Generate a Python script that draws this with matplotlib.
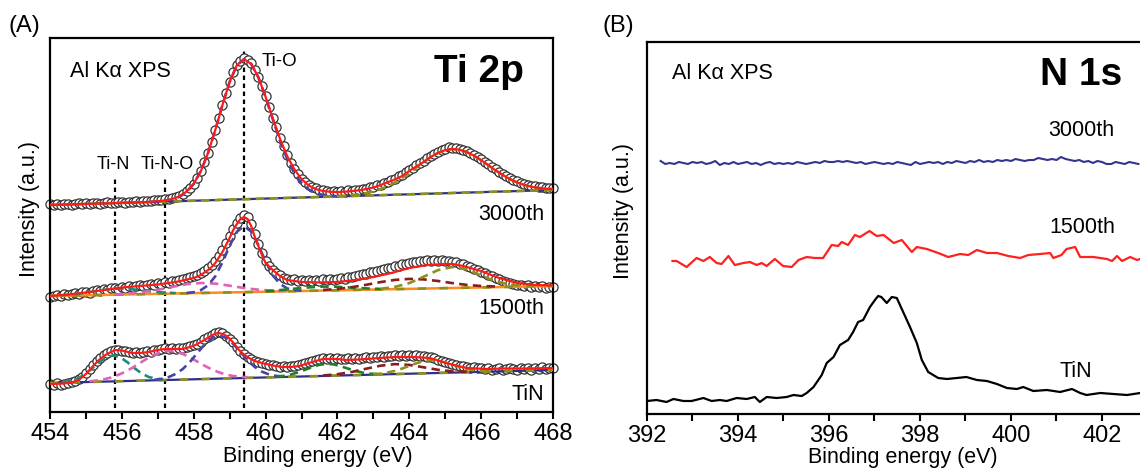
import numpy as np
import matplotlib.pyplot as plt

plt.rcParams['font.family'] = ['Liberation Sans', 'DejaVu Sans']


def grid(start, stop, step):
    return np.round(np.arange(start, stop + step / 2, step), 2)


# ---------------- panel A : Ti 2p (intensities in a.u., curves stacked) ----------------
ti_x = grid(454.0, 468.0, 0.1)

ti_3000 = [208, 207, 208, 207, 208, 208, 207, 208, 209, 208,
           209, 208, 209, 209, 208, 209, 210, 209, 209, 210,
           210, 209, 210, 210, 211, 210, 211, 211, 211, 212,
           212, 212, 213, 213, 214, 215, 216, 218, 221, 224,
           228, 234, 241, 250, 259, 270, 282, 294, 307, 319,
           330, 340, 347, 351, 354, 352, 349, 342, 335, 326,
           316, 305, 294, 285, 274, 266, 257, 249, 243, 238,
           233, 230, 227, 225, 224, 222, 222, 221, 220, 221,
           220, 221, 220, 222, 221, 222, 222, 223, 223, 225,
           225, 227, 227, 229, 230, 232, 233, 236, 237, 240,
           242, 244, 247, 249, 251, 254, 256, 258, 260, 262,
           263, 265, 264, 264, 263, 262, 261, 259, 257, 255,
           253, 250, 248, 245, 243, 240, 238, 236, 234, 232,
           231, 229, 228, 227, 226, 226, 225, 225, 224, 224,
           224]

ti_1500 = [115, 116, 117, 116, 118, 117, 118, 119, 118, 120,
           120, 119, 121, 122, 121, 123, 122, 124, 124, 123,
           125, 124, 126, 125, 126, 127, 126, 127, 128, 127,
           129, 128, 130, 129, 131, 131, 132, 133, 134, 135,
           136, 137, 139, 141, 144, 147, 151, 156, 162, 169,
           176, 183, 189, 194, 197, 195, 188, 178, 168, 159,
           151, 146, 142, 139, 137, 134, 133, 132, 133, 131,
           132, 131, 132, 131, 132, 131, 133, 132, 133, 132,
           133, 134, 133, 135, 135, 136, 137, 138, 138, 140,
           140, 141, 142, 143, 144, 144, 146, 146, 148, 148,
           149, 150, 150, 151, 151, 152, 151, 152, 151, 152,
           151, 151, 150, 150, 148, 148, 146, 145, 143, 142,
           140, 139, 137, 136, 134, 133, 131, 130, 129, 128,
           127, 127, 126, 127, 125, 126, 125, 126, 124, 125,
           125]

ti_tin = [28, 27, 29, 27, 28, 29, 30, 31, 33, 35,
          39, 43, 47, 51, 54, 57, 59, 61, 62, 62,
          61, 61, 60, 59, 60, 59, 60, 61, 60, 62,
          62, 63, 64, 63, 64, 63, 64, 64, 65, 66,
          67, 68, 70, 73, 75, 77, 79, 80, 79, 76,
          73, 70, 65, 61, 58, 55, 53, 51, 50, 49,
          48, 47, 47, 46, 45, 46, 45, 46, 46, 47,
          48, 49, 50, 51, 52, 53, 54, 53, 54, 53,
          54, 53, 53, 54, 53, 54, 53, 54, 55, 54,
          55, 55, 56, 55, 56, 56, 57, 56, 57, 56,
          57, 56, 57, 56, 56, 55, 55, 54, 52, 51,
          50, 49, 48, 47, 46, 46, 45, 44, 45, 44,
          44, 43, 44, 42, 43, 44, 42, 43, 44, 43,
          42, 44, 43, 44, 42, 44, 43, 45, 43, 44,
          44]

# envelope fits
fit3000_x = grid(454.0, 468.0, 0.2)
fit3000_y = [207.0, 207.2, 207.4, 207.6, 207.9, 208.1, 208.3, 208.5, 208.7, 208.9,
             209.1, 209.4, 209.6, 209.8, 210.2, 210.8, 211.6, 213.0, 215.6, 220.4,
             228.3, 241.0, 259.2, 282.0, 307.0, 330.2, 346.7, 352.8, 348.1, 334.6,
             315.2, 293.8, 273.4, 256.0, 242.8, 232.9, 226.5, 222.9, 221.0, 220.2,
             219.9, 220.3, 220.9, 221.7, 222.9, 224.5, 226.9, 229.8, 232.5, 236.0,
             241.1, 245.6, 250.0, 255.1, 259.1, 261.9, 263.0, 262.3, 259.9, 256.3,
             251.8, 246.8, 241.7, 237.0, 232.9, 229.6, 227.1, 225.3, 224.1, 223.3,
             222.9]

fit1500_x = [454.0, 454.5, 455.0, 455.5, 455.8, 456.0, 456.5, 457.0, 457.2, 457.5,
             458.0, 458.2, 458.4, 458.5, 458.6, 458.8, 459.0, 459.1, 459.2, 459.3,
             459.4, 459.5, 459.6, 459.7, 459.8, 459.9, 460.0, 460.2, 460.3, 460.4,
             460.6, 460.8, 461.0, 461.5, 462.0, 462.5, 463.0, 463.5, 464.0, 464.5,
             465.0, 465.2, 465.5, 466.0, 466.5, 467.0, 467.5, 468.0]
fit1500_y = [116, 117.5, 119.5, 122, 123.5, 124.5, 126, 127.5, 128.5, 130,
             134, 137, 142, 145, 149, 160, 174, 182, 188, 193,
             195, 193, 186, 175, 166, 157, 149, 142, 139, 136,
             132, 131, 130, 129.5, 130, 132, 135, 139, 144, 147,
             148, 148, 146, 141, 134, 129, 127, 126.5]

fittin_x = [454.0, 454.4, 454.6, 454.8, 455.0, 455.1, 455.2, 455.36, 455.5, 455.64,
            455.82, 456.0, 456.28, 456.5, 456.75, 457.0, 457.2, 457.5, 457.68, 457.9,
            458.05, 458.25, 458.43, 458.6, 458.7, 458.85, 458.98, 459.1, 459.26, 459.4,
            459.54, 459.7, 459.9, 460.2, 460.46, 460.7, 460.94, 461.2, 461.6, 462.0,
            462.24, 462.6, 463.17, 463.6, 464.1, 464.57, 465.03, 465.3, 465.6, 466.15,
            466.6, 467.2, 468.0]
fittin_y = [28, 28.5, 29.5, 32, 38, 42, 46, 52, 56, 59,
            62, 61.5, 59, 59, 60, 62, 63, 63, 63, 65,
            67, 71, 75, 78.5, 79, 77.5, 74, 69.5, 62, 57.5,
            54, 51, 49, 46.5, 45, 45, 46, 49, 53, 53,
            52, 52.5, 54, 55, 55, 54, 49, 46.5, 44, 43,
            43.5, 43.5, 44]

# backgrounds (end points)
bg_x = [454.0, 468.0]
bg3000 = [207, 222]
bg1500 = [116, 126]
bgtin = [29, 42]

# fitted components, 3000th
c3000_tio_x = grid(456.8, 462.0, 0.2)
c3000_tio = [210.0, 210.5, 211.2, 212.5, 215.1, 219.9, 228.1, 241.0, 259.2, 282.0,
             307.0, 330.2, 346.7, 352.8, 348.1, 334.6, 315.0, 292.8, 271.4, 253.0,
             238.8, 228.9, 222.5, 218.9, 217.0, 216.2, 215.9]
c3000_tio2_x = grid(461.6, 468.0, 0.2)
c3000_tio2 = [215.1, 215.5, 215.9, 216.3, 216.9, 217.7, 218.9, 220.5, 222.9, 225.8,
              229.5, 234.0, 239.1, 244.6, 250.0, 255.1, 259.1, 261.9, 263.0, 262.3,
              259.9, 256.3, 251.8, 246.8, 241.7, 237.0, 232.9, 229.6, 227.1, 225.3,
              224.1, 223.3, 222.9]

# fitted components, 1500th
c1500_tin_x = grid(454.3, 457.5, 0.4)
c1500_tin = [116.6, 117.9, 119.9, 122.2, 123.4, 122.7, 121.0, 119.6, 118.9]
c1500_tino_x = grid(455.8, 460.6, 0.4)
c1500_tino = [117.6, 118.5, 120.0, 122.2, 125.1, 127.8, 129.0, 128.4, 126.3, 124.0,
              122.3, 121.3, 121.0]
c1500_tio_x = grid(457.8, 461.0, 0.2)
c1500_tio = [119.0, 119.8, 121.9, 126.7, 135.7, 149.7, 166.2, 180.2, 185.9, 180.5,
             166.8, 150.5, 136.8, 128.1, 123.6, 121.8, 121.3]
c1500_tin2_x = grid(460.0, 463.2, 0.4)
c1500_tin2 = [120.8, 121.9, 123.3, 124.6, 125.4, 125.2, 124.4, 123.6, 123.1]
c1500_tino2_x = grid(461.6, 466.4, 0.4)
c1500_tino2 = [122.0, 123.1, 124.8, 127.2, 129.9, 132.1, 133.1, 132.6, 131.0, 128.9,
               127.1, 126.0, 125.5]
c1500_tio2_x = grid(463.2, 467.2, 0.4)
c1500_tio2 = [123.2, 125.1, 128.9, 135.3, 141.9, 145.0, 142.5, 136.5, 130.7, 127.3, 126.0]

# fitted components, TiN
ctin_tin_x = grid(454.35, 457.15, 0.2)
ctin_tin = [29.8, 31.0, 33.2, 37.1, 42.8, 49.2, 54.4, 56.6, 54.8, 49.9,
            43.9, 38.5, 35.0, 33.2, 32.4]
ctin_tino_x = grid(455.1, 459.5, 0.2)
ctin_tino = [30.7, 31.5, 32.7, 34.5, 37.1, 40.3, 44.4, 48.9, 53.4, 57.3,
             60.0, 61.1, 60.4, 58.0, 54.5, 50.4, 46.3, 42.6, 39.7, 37.4,
             36.0, 35.2, 34.8]
ctin_tio_x = grid(456.9, 460.5, 0.2)
ctin_tio = [32.2, 33.1, 34.9, 38.1, 43.1, 50.3, 58.9, 67.4, 73.9, 76.4,
            74.2, 68.1, 60.0, 51.8, 45.0, 40.3, 37.5, 36.1, 35.5]
ctin_tin2_x = grid(460.3, 463.1, 0.2)
ctin_tin2 = [35.4, 36.1, 37.5, 39.6, 42.2, 45.0, 47.2, 48.2, 47.6, 45.7,
             43.3, 41.1, 39.4, 38.4, 37.9]
ctin_tino2_x = grid(461.6, 465.6, 0.4)
ctin_tino2 = [36.5, 37.8, 40.0, 43.3, 46.3, 47.9, 47.1, 44.7, 42.2, 40.7, 40.1]
ctin_tio2_x = grid(463.0, 466.2, 0.2)
ctin_tio2 = [37.8, 38.4, 39.5, 41.1, 43.4, 46.2, 48.8, 50.9, 51.8, 51.3,
             49.6, 47.3, 44.9, 42.9, 41.7, 41.0, 40.7]

peak_pos = [455.8, 457.2, 459.4]
peak_top = [235, 235, 364]

# ---------------- panel B : N 1s ----------------
n3000_x = np.round(np.linspace(392.3, 402.8, 106), 1)
n3000_y = [253, 250, 251, 250, 252, 251, 250, 252, 251, 252,
           250, 251, 253, 249, 251, 250, 252, 250, 251, 252,
           250, 251, 249, 251, 252, 250, 251, 250, 251, 250,
           252, 251, 250, 251, 252, 251, 253, 252, 252, 253,
           252, 253, 252, 251, 252, 250, 251, 252, 251, 250,
           251, 250, 252, 251, 250, 249, 252, 250, 251, 252,
           251, 252, 250, 252, 251, 253, 252, 251, 253, 252,
           254, 252, 253, 252, 254, 253, 254, 253, 255, 254,
           253, 254, 254, 256, 255, 254, 255, 254, 257, 255,
           254, 253, 254, 252, 253, 251, 253, 252, 250, 250,
           252, 251, 250, 252, 251, 250]

n1500_x = [392.56, 392.65, 392.87, 393.09, 393.24, 393.38, 393.53, 393.64, 393.79, 393.93,
           394.12, 394.26, 394.41, 394.52, 394.63, 394.81, 394.99, 395.18, 395.33, 395.51,
           395.69, 395.87, 396.06, 396.2, 396.28, 396.42, 396.57, 396.68, 396.89, 397.05,
           397.2, 397.34, 397.42, 397.6, 397.82, 397.93, 398.15, 398.4, 398.62, 398.88,
           399.06, 399.25, 399.47, 399.69, 399.94, 400.2, 400.38, 400.64, 400.86, 400.93,
           401.11, 401.22, 401.41, 401.52, 401.81, 402.11, 402.22, 402.33, 402.44, 402.62,
           402.77, 402.84]
n1500_y = [153, 153, 147, 156, 153, 157, 151, 150, 158, 149,
           151, 152, 149, 151, 148, 155, 148, 147, 154, 157,
           156, 156, 169, 168, 172, 169, 179, 177, 183, 178,
           179, 174, 171, 174, 162, 167, 165, 161, 157, 160,
           159, 164, 161, 161, 158, 156, 159, 160, 161, 156,
           159, 165, 167, 157, 157, 155, 153, 158, 153, 157,
           154, 155]

ntin_x = [392.0, 392.21, 392.43, 392.58, 392.8, 392.98, 393.24, 393.42, 393.6, 393.75,
          393.97, 394.19, 394.37, 394.48, 394.63, 394.85, 395.07, 395.22, 395.4, 395.51,
          395.66, 395.84, 395.95, 396.1, 396.24, 396.42, 396.53, 396.64, 396.75, 396.9,
          397.01, 397.08, 397.15, 397.27, 397.38, 397.49, 397.63, 397.78, 397.93, 398.04,
          398.18, 398.4, 398.59, 398.81, 399.02, 399.25, 399.47, 399.69, 399.91, 400.13,
          400.27, 400.49, 400.79, 401.08, 401.34, 401.52, 401.66, 401.96, 402.25, 402.55,
          402.84]
ntin_y = [13, 14, 12, 15, 13, 13, 16, 13, 14, 13,
          16, 15, 17, 12, 17, 16, 17, 19, 18, 21,
          27, 39, 51, 57, 69, 74, 82, 92, 94, 107,
          114, 118, 117, 111, 117, 116, 102, 87, 71, 54,
          42, 36, 35, 36, 37, 34, 33, 30, 26, 25,
          27, 23, 24, 22, 25, 21, 19, 21, 20, 19,
          21]

# ---------------- colours ----------------
RED = '#ff1a1a'
NAVY = '#2f2f86'
BLUE = '#4545a8'
PINK = '#e062b4'
TEAL = '#1f8a78'
GREEN = '#1f7f2a'
DRED = '#8c1c1c'
OLIVE = '#8f8f1c'
ORANGE = '#ff8c1a'

W, H = 1140, 468
fig = plt.figure(figsize=(W / 100, H / 100), dpi=100)

axA = fig.add_axes([50 / W, (H - 412) / H, 503 / W, 374 / H])
axB = fig.add_axes([647 / W, (H - 414) / H, 500.5 / W, 372 / H])

dash = dict(lw=1.9, dashes=(3.2, 2.0))


def comp(ax, x, y, color):
    ax.plot(x, y, color=color, zorder=4, **dash)


# backgrounds
axA.plot(bg_x, bg3000, color=NAVY, lw=1.6, zorder=3)
axA.plot(bg_x, bg3000, color=OLIVE, zorder=3, **dash)
axA.plot(bg_x, bg1500, color=ORANGE, lw=1.8, zorder=3)
axA.plot(bg_x, bg1500, color=OLIVE, zorder=3, lw=1.9, dashes=(3.2, 5.0))
axA.plot(bg_x, bgtin, color=NAVY, lw=1.6, zorder=3)
axA.plot(bg_x, bgtin, color=OLIVE, zorder=3, lw=1.9, dashes=(3.2, 5.0))

# measured points
for vals in (ti_3000, ti_1500, ti_tin):
    axA.plot(ti_x, vals, 'o', ms=6.6, mfc='white', mec='#333333', mew=0.9,
             clip_on=False, zorder=2)

# components
comp(axA, c3000_tio_x, c3000_tio, BLUE)
comp(axA, c3000_tio2_x, c3000_tio2, OLIVE)

comp(axA, c1500_tin_x, c1500_tin, TEAL)
comp(axA, c1500_tino_x, c1500_tino, PINK)
comp(axA, c1500_tio_x, c1500_tio, BLUE)
comp(axA, c1500_tin2_x, c1500_tin2, GREEN)
comp(axA, c1500_tino2_x, c1500_tino2, DRED)
comp(axA, c1500_tio2_x, c1500_tio2, OLIVE)

comp(axA, ctin_tin_x, ctin_tin, TEAL)
comp(axA, ctin_tino_x, ctin_tino, PINK)
comp(axA, ctin_tio_x, ctin_tio, BLUE)
comp(axA, ctin_tin2_x, ctin_tin2, GREEN)
comp(axA, ctin_tino2_x, ctin_tino2, DRED)
comp(axA, ctin_tio2_x, ctin_tio2, OLIVE)

# envelopes
axA.plot(fit3000_x, fit3000_y, color=RED, lw=1.6, zorder=5)
axA.plot(fit1500_x, fit1500_y, color=RED, lw=1.6, zorder=5)
axA.plot(fittin_x, fittin_y, color=RED, lw=1.6, zorder=5)

for xp, top in zip(peak_pos, peak_top):
    axA.plot([xp, xp], [4, top], color='black', lw=1.6, dashes=(2.0, 1.6), zorder=1)

axA.set_xlim(454, 468)
axA.set_ylim(0, 374)

axA.text(454.55, 335, 'Al K\u03b1 XPS', fontsize=15.5, ha='left', va='baseline')
axA.text(467.2, 330, 'Ti 2p', fontsize=28, fontweight='bold', ha='right', va='baseline')
axA.text(455.75, 243, 'Ti-N', fontsize=13, ha='center', va='baseline')
axA.text(457.25, 243, 'Ti-N-O', fontsize=13, ha='center', va='baseline')
axA.text(459.88, 346, 'Ti-O', fontsize=13.5, ha='left', va='baseline')
axA.text(467.76, 192, '3000th', fontsize=15.5, ha='right', va='baseline')
axA.text(467.76, 98, '1500th', fontsize=15.5, ha='right', va='baseline')
axA.text(467.76, 12, 'TiN', fontsize=15.5, ha='right', va='baseline')

# panel B
axB.plot(n3000_x, n3000_y, color='#35358f', lw=1.5)
axB.plot(n1500_x, n1500_y, color='#ff2020', lw=1.6)
axB.plot(ntin_x, ntin_y, color='black', lw=1.6)
axB.set_xlim(392, 403)
axB.set_ylim(0, 372)
axB.spines['right'].set_visible(False)

axB.text(392.55, 335, 'Al K\u03b1 XPS', fontsize=15.5, ha='left', va='baseline')
axB.text(402.44, 329, 'N 1s', fontsize=28, fontweight='bold', ha='right', va='baseline')
axB.text(401.55, 278, '3000th', fontsize=15.5, ha='center', va='baseline')
axB.text(401.56, 181, '1500th', fontsize=15.5, ha='center', va='baseline')
axB.text(401.43, 37, 'TiN', fontsize=15.5, ha='center', va='baseline')

for ax, lo, hi in ((axA, 454, 468), (axB, 392, 403)):
    ax.set_xticks(np.arange(lo, hi + 1, 2))
    ax.set_xticks(np.arange(lo + 1, hi + 1, 2), minor=True)
    ax.set_yticks([])
    ax.tick_params(which='both', direction='out', length=5, width=1.5,
                   labelsize=17, pad=3, top=False)
    for s in ax.spines.values():
        s.set_linewidth(1.6)

fig.text(29 / W, 1 - 209 / H, 'Intensity (a.u.)', rotation=90, ha='center',
         va='center', fontsize=15.5)
fig.text(624 / W, 1 - 211 / H, 'Intensity (a.u.)', rotation=90, ha='center',
         va='center', fontsize=15.5)
fig.text(318 / W, 1 - 462 / H, 'Binding energy (eV)', ha='center', va='baseline',
         fontsize=15.5)
fig.text(903 / W, 1 - 463 / H, 'Binding energy (eV)', ha='center', va='baseline',
         fontsize=15.5)
fig.text(8 / W, 1 - 32 / H, '(A)', fontsize=17, ha='left', va='baseline')
fig.text(603 / W, 1 - 32 / H, '(B)', fontsize=17, ha='left', va='baseline')

fig.savefig('out.png', dpi=100)
